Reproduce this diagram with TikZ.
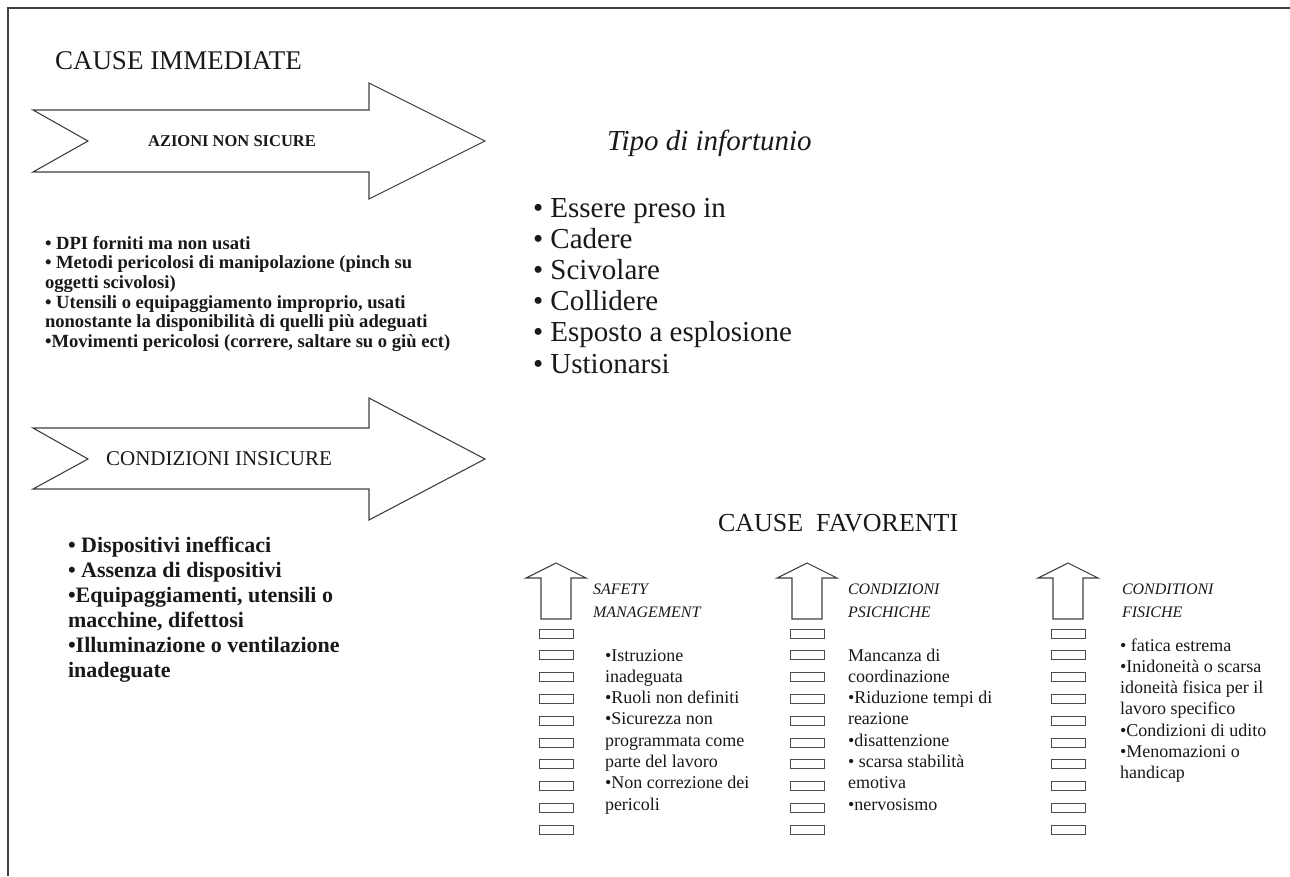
\documentclass[tikz,border=0pt]{standalone}
\usepackage{fontspec}
\setmainfont{Liberation Serif}
\begin{document}
\begin{tikzpicture}[x=1pt,y=-1pt,
  shapeline/.style={draw=black!75, line width=1.1pt, line join=miter},
  boxline/.style={draw=black!70, line width=0.9pt},
  frameline/.style={draw=black!75, line width=2pt},
  txt/.style={inner sep=0pt, outer sep=0pt, text=black!90},
  listtxt/.style={txt, align=left, anchor=base west}]
\useasboundingbox (0,0) rectangle (1290,876);
% frame
\draw[frameline] (8,876) -- (8,8) -- (1290,8);
% big arrows
\draw[shapeline] (33,110) -- (369,110) -- (369,83) -- (485,141) -- (369,199) -- (369,172) -- (33,172) -- (88,141) -- cycle;
\draw[shapeline] (33,428) -- (369,428) -- (369,398) -- (485,459) -- (369,520) -- (369,489) -- (33,489) -- (88,459) -- cycle;
% titles
\node[txt, anchor=base west, font=\fontsize{27}{32}\selectfont] (ci) at (55,69) {CAUSE IMMEDIATE};
\node[txt, font=\bfseries\fontsize{16.5}{20}\selectfont] (ans) at (232,141) {AZIONI NON SICURE};
\node[txt, font=\fontsize{21}{25}\selectfont] (cins) at (219,459) {CONDIZIONI INSICURE};
\node[txt, anchor=base west, font=\itshape\fontsize{29}{33}\selectfont] (tipo) at (607,150) {Tipo di infortunio};
\node[txt, anchor=base west, font=\fontsize{26}{30}\selectfont] (cf) at (718,531) {CAUSE~~FAVORENTI};
% lists (anchor = baseline of the last line)
\node[listtxt, font=\bfseries\fontsize{18.6}{19.7}\selectfont] (l1) at (45,347.5) {• DPI forniti ma non usati\\ • Metodi pericolosi di manipolazione (pinch su\\ oggetti scivolosi)\\ • Utensili o equipaggiamento improprio, usati\\ nonostante la disponibilità di quelli più adeguati\\ •Movimenti pericolosi (correre, saltare su o giù ect)};
\node[listtxt, font=\bfseries\fontsize{22}{25}\selectfont] (l2) at (68,677) {• Dispositivi inefficaci\\ • Assenza di dispositivi\\ •Equipaggiamenti, utensili o\\ macchine, difettosi\\ •Illuminazione o ventilazione\\ inadeguate};
\node[listtxt, font=\fontsize{29}{31.2}\selectfont] (l3) at (533,373) {• Essere preso in\\ • Cadere\\ • Scivolare\\ • Collidere\\ • Esposto a esplosione\\ • Ustionarsi};
% column headers
\node[listtxt, font=\itshape\fontsize{16}{23}\selectfont] (h1) at (593,617) {SAFETY\\ MANAGEMENT};
\node[listtxt, font=\itshape\fontsize{16}{23}\selectfont] (h2) at (848,617) {CONDIZIONI\\ PSICHICHE};
\node[listtxt, font=\itshape\fontsize{16}{23}\selectfont] (h3) at (1122,617) {CONDITIONI\\ FISICHE};
% column lists
\node[listtxt, font=\fontsize{18}{21.3}\selectfont] (c1) at (605,810.1) {•Istruzione\\ inadeguata\\ •Ruoli non definiti\\ •Sicurezza non\\ programmata come\\ parte del lavoro\\ •Non correzione dei\\ pericoli};
\node[listtxt, font=\fontsize{18}{21.3}\selectfont] (c2) at (848,810.1) {Mancanza di\\ coordinazione\\ •Riduzione tempi di\\ reazione\\ •disattenzione\\ • scarsa stabilità\\ emotiva\\ •nervosismo};
\node[listtxt, font=\fontsize{18}{21.3}\selectfont] (c3) at (1120,778.8) {• fatica estrema\\ •Inidoneità o scarsa\\ idoneità fisica per il\\ lavoro specifico\\ •Condizioni di udito\\ •Menomazioni o\\ handicap};
% up arrows and ladders
\foreach \cx in {556,807,1068}{
  \draw[shapeline] (\cx-15,619) -- (\cx-15,578) -- (\cx-30,578) -- (\cx,563) -- (\cx+30,578) -- (\cx+15,578) -- (\cx+15,619) -- cycle;
  \foreach \i in {0,...,9}
    \draw[boxline] (\cx-17,629+21.8*\i) rectangle ++(34,9);
}
\end{tikzpicture}
\end{document}
